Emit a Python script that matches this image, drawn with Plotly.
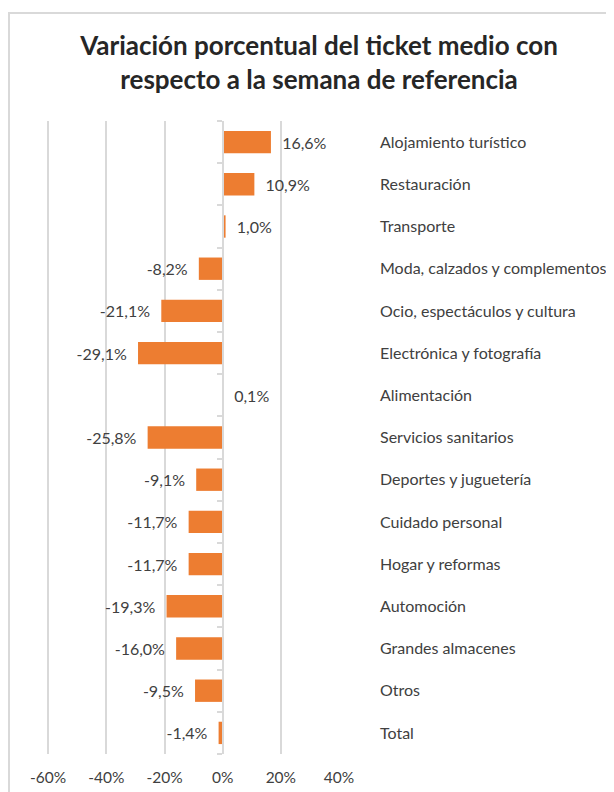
import plotly.graph_objects as go

categories = [
    "Alojamiento turístico",
    "Restauración",
    "Transporte",
    "Moda, calzados y complementos",
    "Ocio, espectáculos y cultura",
    "Electrónica y fotografía",
    "Alimentación",
    "Servicios sanitarios",
    "Deportes y juguetería",
    "Cuidado personal",
    "Hogar y reformas",
    "Automoción",
    "Grandes almacenes",
    "Otros",
    "Total",
]
values = [16.6, 10.9, 1.0, -8.2, -21.1, -29.1, 0.1, -25.8, -9.1, -11.7, -11.7, -19.3, -16.0, -9.5, -1.4]
x_ticks = [-60, -40, -20, 0, 20, 40]
x_tick_labels = ["-60%", "-40%", "-20%", "0%", "20%", "40%"]

FONT = "Lato"
TXT = "#404040"
W, H = 614, 792
OFF = 8  # page body margin
X_MIN, X_MAX = -60.4, 40
PW, PH = 292, 633
L, T = 48 - OFF - 1, 121 - OFF
R = W - L - PW
B = H - T - PH

idx = list(range(len(categories)))
labels = [f"{v:.1f}%".replace(".", ",") for v in values]
labels = [("  " + s) if v >= 0 else (s + "  ") for s, v in zip(labels, values)]

fig = go.Figure()
fig.add_trace(go.Bar(
    x=values, y=idx, orientation="h",
    marker=dict(color="#ED7D31", line=dict(width=0)),
    width=0.53,
    text=labels, textposition="outside", cliponaxis=False,
    textfont=dict(family=FONT, size=16, color=TXT),
    yaxis="y",
))
fig.add_trace(go.Scatter(x=[0], y=[0], mode="markers", marker=dict(opacity=0),
                         yaxis="y2", hoverinfo="skip", showlegend=False))

n = len(categories)
fig.update_layout(
    width=W, height=H,
    margin=dict(l=L, r=R, t=T, b=B, autoexpand=False),
    paper_bgcolor="white", plot_bgcolor="white",
    showlegend=False,
    title=dict(
        text="Variación porcentual del ticket medio con<br>respecto a la semana de referencia",
        font=dict(family=FONT, size=26, color="#262626", weight="bold"),
        x=(319 - OFF) / W, xanchor="center", xref="container",
        y=1 - 47 / H, yanchor="top", yref="container",
    ),
    xaxis=dict(
        range=[X_MIN, X_MAX], tickvals=x_ticks, ticktext=x_tick_labels,
        showgrid=True, gridcolor="#d9d9d9", gridwidth=1.5,
        zeroline=False, showline=False, ticks="",
        tickfont=dict(family=FONT, size=15.5, color=TXT),
        ticklabelstandoff=12, automargin=False,
    ),
    yaxis=dict(
        range=[n - 0.5, -0.5], tickvals=idx, ticktext=categories,
        side="right", showgrid=False, zeroline=False, showline=False, ticks="",
        tickfont=dict(family=FONT, size=16, color=TXT),
        ticklabelstandoff=40, automargin=False,
    ),
    yaxis2=dict(
        overlaying="y", anchor="free", position=(0 - X_MIN) / (X_MAX - X_MIN), side="left",
        range=[n - 0.5, -0.5], tickvals=[i + 0.5 for i in range(-1, n)],
        showticklabels=False, ticks="outside", ticklen=5, tickcolor="#d9d9d9",
        tickwidth=1.5, showline=True, linecolor="#d9d9d9", linewidth=1.5,
        showgrid=False, zeroline=False, automargin=False,
    ),
    shapes=[dict(type="rect", xref="paper", yref="paper",
                 x0=(8 - OFF + 1 - L) / PW, x1=(W + 20 - L) / PW,
                 y0=(H - (820 - OFF) - B) / PH, y1=(H - (13 - OFF) - B) / PH,
                 line=dict(color="#d9d9d9", width=2), layer="below")],
)

fig.write_html("out.html")
